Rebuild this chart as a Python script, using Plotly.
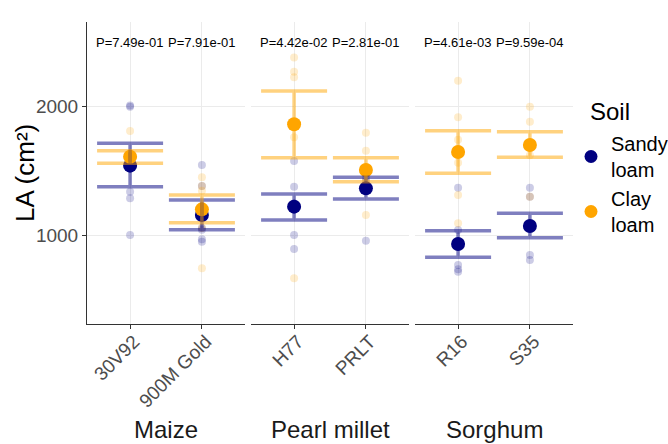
import plotly.graph_objects as go

# ---------------- data ----------------
crops = ["Maize", "Pearl millet", "Sorghum"]
genotypes = ["30V92", "900M Gold", "H77", "PRLT", "R16", "S35"]
genotype_crop = ["Maize", "Maize", "Pearl millet", "Pearl millet", "Sorghum", "Sorghum"]
p_values = [7.49e-01, 7.91e-01, 4.42e-02, 2.81e-01, 4.61e-03, 9.59e-04]

soils = ["Sandy loam", "Clay loam"]

sandy_obs = [
    [2005, 1995, 1339, 1288, 1005, 1610],
    [1545, 1383, 972, 954, 1045, 1060],
    [1576, 1378, 1005, 897, 1250],
    [1500, 1480, 1450, 1420, 1380, 961],
    [1370, 1044, 774, 741, 722],
    [1370, 1301, 851, 813],
]
clay_obs = [
    [1807, 1590, 1560, 1540, 1560],
    [1450, 1383, 1347, 1200, 1060, 749],
    [2375, 2265, 2221, 672, 1760],
    [1794, 1655, 1500, 1430, 1160],
    [2195, 1913, 1563, 1314, 1096, 1740],
    [1995, 1879, 1700, 1620, 1301],
]

sandy_mean = [1540, 1160, 1224, 1365, 936, 1075]
sandy_upper = [1712, 1275, 1322, 1450, 1039, 1173]
sandy_lower = [1378, 1046, 1121, 1283, 833, 985]

clay_mean = [1609, 1203, 1859, 1507, 1645, 1699]
clay_upper = [1655, 1314, 2116, 1601, 1809, 1802]
clay_lower = [1558, 1100, 1601, 1416, 1481, 1604]

y_ticks = [1000, 2000]

# ---------------- styling ----------------
W, H = 668, 444
FONT = "Liberation Sans, Arial, Helvetica, sans-serif"
soil_colors = {"Sandy loam": "#000080", "Clay loam": "#FFA500"}
soil_rgba = {"Sandy loam": "rgba(0,0,128,{a})", "Clay loam": "rgba(255,165,0,{a})"}
panel_px = [(87, 245), (251, 409), (415, 573)]
y_dom = [1 - 324 / H, 1 - 22 / H]
y_range = [319, 2648]
p_label_y = 2488

obs = {"Sandy loam": sandy_obs, "Clay loam": clay_obs}
means = {"Sandy loam": sandy_mean, "Clay loam": clay_mean}
uppers = {"Sandy loam": sandy_upper, "Clay loam": clay_upper}
lowers = {"Sandy loam": sandy_lower, "Clay loam": clay_lower}

fig = go.Figure()


def axes_for(i):
    return ("x" if i == 0 else f"x{i+1}", "y" if i == 0 else f"y{i+1}")


panel_idx = []
for crop in crops:
    panel_idx.append([j for j, c in enumerate(genotype_crop) if c == crop])

# raw observations
for i, idx in enumerate(panel_idx):
    xa, ya = axes_for(i)
    for soil in soils:
        xs, ys = [], []
        for j in idx:
            for v in obs[soil][j]:
                xs.append(genotypes[j])
                ys.append(v)
        fig.add_trace(go.Scatter(
            x=xs, y=ys, mode="markers", xaxis=xa, yaxis=ya,
            marker=dict(color=soil_colors[soil], size=8, opacity=0.2, line=dict(width=0)),
            showlegend=False, hoverinfo="skip"))

# means
for i, idx in enumerate(panel_idx):
    xa, ya = axes_for(i)
    for soil in soils:
        fig.add_trace(go.Scatter(
            x=[genotypes[j] for j in idx], y=[means[soil][j] for j in idx],
            mode="markers", xaxis=xa, yaxis=ya,
            marker=dict(color=soil_colors[soil], size=14, line=dict(width=0)),
            showlegend=False, hoverinfo="skip"))

# error bars (drawn on top, semi-transparent)
for i, idx in enumerate(panel_idx):
    xa, ya = axes_for(i)
    for soil in soils:
        m = [means[soil][j] for j in idx]
        up = [uppers[soil][j] - means[soil][j] for j in idx]
        dn = [means[soil][j] - lowers[soil][j] for j in idx]
        fig.add_trace(go.Scatter(
            x=[genotypes[j] for j in idx], y=m, mode="markers", xaxis=xa, yaxis=ya,
            marker=dict(color="rgba(0,0,0,0)", size=1),
            error_y=dict(type="data", symmetric=False, array=up, arrayminus=dn,
                         color=soil_rgba[soil].format(a=0.5), thickness=3.5, width=33),
            showlegend=False, hoverinfo="skip"))

# legend entries
for soil in soils:
    fig.add_trace(go.Scatter(
        x=[None], y=[None], mode="markers",
        marker=dict(color=soil_colors[soil], size=13),
        name=soil.replace(" ", "<br>"), showlegend=True))

layout = dict(
    width=W, height=H,
    margin=dict(l=0, r=0, t=0, b=0, autoexpand=False),
    paper_bgcolor="white", plot_bgcolor="white",
    font=dict(family=FONT, color="#000000"),
    showlegend=True,
    legend=dict(
        x=571 / W, y=1 - 124 / H, xanchor="left", yanchor="top",
        font=dict(size=20, family=FONT),
        bgcolor="rgba(0,0,0,0)", tracegroupgap=2, itemwidth=30,
    ),
)

annotations = []
for i, idx in enumerate(panel_idx):
    xa, ya = axes_for(i)
    a, b = panel_px[i]
    cats = [genotypes[j] for j in idx]
    layout["xaxis" if i == 0 else f"xaxis{i+1}"] = dict(
        domain=[a / W, b / W], anchor=ya, type="category",
        categoryorder="array", categoryarray=cats,
        range=[-0.6, len(cats) - 1 + 0.6],
        tickangle=-45, tickfont=dict(size=19, color="#4D4D4D", family=FONT),
        ticklabelstandoff=-6, ticklabelshift=4,
        showline=True, linecolor="#333333", linewidth=1,
        ticks="outside", ticklen=4, tickcolor="#333333",
        showgrid=True, gridcolor="#EBEBEB", gridwidth=1, zeroline=False,
        fixedrange=True, automargin=False,
    )
    yax = dict(
        domain=y_dom, anchor=xa, range=y_range, tickvals=y_ticks,
        showgrid=True, gridcolor="#EBEBEB", gridwidth=1, zeroline=False,
        fixedrange=True, automargin=False,
    )
    if i == 0:
        yax.update(showline=True, linecolor="#333333", linewidth=1,
                   ticks="outside", ticklen=4, tickcolor="#333333",
                   tickfont=dict(size=19, color="#4D4D4D", family=FONT))
    else:
        yax.update(matches="y", showticklabels=False, showline=False, ticks="")
    layout["yaxis" if i == 0 else f"yaxis{i+1}"] = yax

    # facet label (strip at bottom)
    annotations.append(dict(
        text=crops[i], x=(a + b) / 2 / W, y=1 - 429 / H, xref="paper", yref="paper",
        xanchor="center", yanchor="middle", showarrow=False,
        font=dict(size=24, color="#1A1A1A", family=FONT)))
    # p-value labels
    for j in idx:
        annotations.append(dict(
            text="P=%.2e" % p_values[j], x=genotypes[j], y=p_label_y,
            xref=xa, yref=ya, xanchor="center", yanchor="middle", showarrow=False,
            font=dict(size=13, color="#000000", family=FONT)))

annotations.append(dict(
    text="LA (cm²)", x=25 / W, y=1 - 173 / H, xref="paper", yref="paper",
    xanchor="center", yanchor="middle", textangle=-90, showarrow=False,
    font=dict(size=26, color="#000000", family=FONT)))

annotations.append(dict(
    text="Soil", x=588 / W, y=1 - 111 / H, xref="paper", yref="paper",
    xanchor="left", yanchor="middle", showarrow=False,
    font=dict(size=24, color="#000000", family=FONT)))

layout["annotations"] = annotations
fig.update_layout(**layout)

fig.write_html(
    "out.html",
    config={"displayModeBar": False},
    post_script="document.body.style.margin='0px';document.body.style.padding='0px';"
                "document.body.style.overflow='hidden';",
)
